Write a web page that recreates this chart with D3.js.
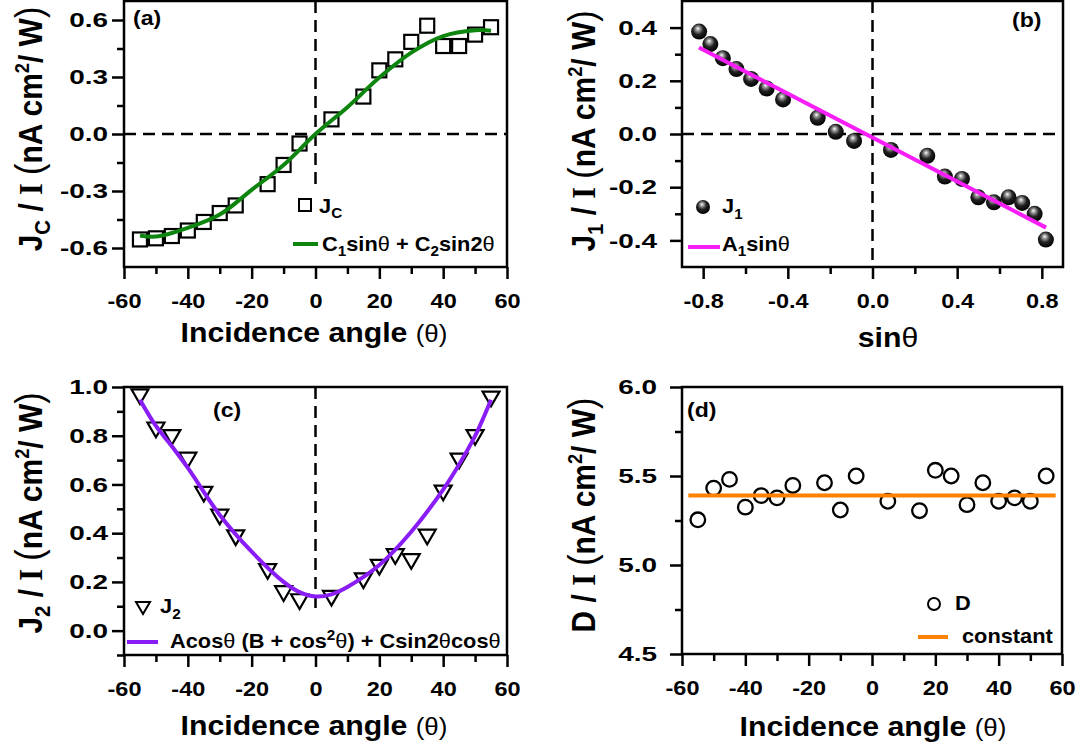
<!DOCTYPE html>
<html>
<head>
<meta charset="utf-8">
<script src="https://cdn.jsdelivr.net/npm/d3@7"></script>
<style>
  body { margin: 0; background: #fff; }
  text { font-family: "Liberation Sans", Arial, sans-serif; font-weight: bold; fill: #000; white-space: pre; }
</style>
</head>
<body>
<svg id="fig" width="1083" height="755"></svg>
<script>
// measured angles (deg), same set for all four panels
const angles = [-55, -50, -45, -40, -35, -30, -25, -15, -10, -5, 5, 15, 20, 25, 30, 35, 40, 45, 50, 55];
const jcValues = [-0.555, -0.549, -0.537, -0.508, -0.463, -0.416, -0.376, -0.264, -0.163, -0.050,
                  0.077, 0.197, 0.335, 0.393, 0.485, 0.570, 0.463, 0.463, 0.523, 0.562];
const j1Values = [0.385, 0.338, 0.285, 0.244, 0.207, 0.171, 0.130, 0.061, 0.008, -0.026,
                  -0.060, -0.082, -0.160, -0.169, -0.238, -0.257, -0.238, -0.259, -0.300, -0.397];
const j2Values = [0.962, 0.826, 0.795, 0.702, 0.562, 0.468, 0.383, 0.245, 0.154, 0.121,
                  0.135, 0.207, 0.262, 0.306, 0.286, 0.386, 0.567, 0.698, 0.795, 0.953];
const dValues = [5.254, 5.432, 5.481, 5.325, 5.390, 5.377, 5.447, 5.462, 5.309, 5.500,
                 5.358, 5.305, 5.532, 5.500, 5.339, 5.462, 5.358, 5.377, 5.358, 5.500];

// fitted curves
const jcFitAngles = [-55, -50, -40, -30, -20, -10, 0, 10, 20, 30, 40, 50, 55];
const jcFit = [-0.534, -0.540, -0.494, -0.424, -0.294, -0.163, 0, 0.141, 0.297, 0.428, 0.515, 0.546, 0.544];
const j1FitSin = [-0.82, 0.82];
const j1Fit = [0.325, -0.352];
const j2FitAngles = [-55, -50, -45, -40, -30, -20, -10, -5, 0, 5, 10, 20, 30, 40, 45, 50, 55];
const j2Fit = [0.948, 0.840, 0.757, 0.668, 0.475, 0.324, 0.200, 0.158, 0.140, 0.149, 0.179, 0.269, 0.406, 0.579, 0.682, 0.799, 0.948];
const dFitAngles = [-58, 58];
const dFit = [5.39, 5.39];

// ticks
const angleTicks = [-60, -40, -20, 0, 20, 40, 60];
const angleMinor = [-50, -30, -10, 10, 30, 50];
const sinTicks = [-0.8, -0.4, 0, 0.4, 0.8];
const sinMinor = [-0.6, -0.2, 0.2, 0.6];
const jcTicks = [-0.6, -0.3, 0, 0.3, 0.6];
const jcMinor = [-0.45, -0.15, 0.15, 0.45];
const j1Ticks = [-0.4, -0.2, 0, 0.2, 0.4];
const j1Minor = [-0.3, -0.1, 0.1, 0.3];
const j2Ticks = [0, 0.2, 0.4, 0.6, 0.8, 1.0];
const j2Minor = [-0.1, 0.1, 0.3, 0.5, 0.7, 0.9];
const dTicks = [4.5, 5.0, 5.5, 6.0];
const dMinor = [4.75, 5.25, 5.75];

const svg = d3.select("#fig");
const defs = svg.append("defs");
const grad = defs.append("radialGradient").attr("id", "ball")
    .attr("cx", "45%").attr("cy", "40%").attr("r", "60%").attr("fx", "42%").attr("fy", "30%");
grad.append("stop").attr("offset", "0%").attr("stop-color", "#fff");
grad.append("stop").attr("offset", "20%").attr("stop-color", "#a0a0a0");
grad.append("stop").attr("offset", "55%").attr("stop-color", "#222");
grad.append("stop").attr("offset", "100%").attr("stop-color", "#000");

const f1 = d => d.toFixed(1);
const f0 = d => d3.format("d")(d).replace("\u2212", "-");
const LW = 2.5;

// text with sub/superscripts: parts = [{t, shift, size, weight, family}]
function rich(parent, x, y, parts, o) {
    const t = parent.append("text")
        .attr("transform", `translate(${x},${y})` + (o.rot ? ` rotate(${o.rot})` : "") +
            ` scale(${o.sx || 1},${o.sy || 1})`)
        .attr("text-anchor", o.anchor || "start")
        .style("font-size", o.size + "px");
    let cur = 0;
    parts.forEach(p => {
        const s = t.append("tspan").text(p.t);
        const off = p.shift || 0;
        if (off !== cur) s.attr("dy", off - cur);
        cur = off;
        if (p.size) s.style("font-size", p.size + "px");
        if (p.weight) s.style("font-weight", p.weight);
        if (p.family) s.style("font-family", p.family);
    });
    return t;
}

function panel(o) {
    const g = svg.append("g");
    const x = d3.scaleLinear().domain(o.xDomain).range([o.left, o.right]);
    const y = d3.scaleLinear().domain(o.yDomain).range([o.bottom, o.top]);

    // minor + major ticks, outward
    g.append("g").attr("transform", `translate(0,${o.bottom})`)
        .call(d3.axisBottom(x).tickValues(o.xMinor).tickSize(7).tickFormat(""));
    g.append("g").attr("transform", `translate(0,${o.bottom})`)
        .call(d3.axisBottom(x).tickValues(o.xTicks).tickSize(12).tickPadding(14).tickFormat(o.xFmt))
        .selectAll("text").style("font-size", "21px").style("font-family", null)
        .attr("transform", "scale(1.12,1)");
    g.append("g").attr("transform", `translate(0,0)`)
        .attr("transform", `translate(${o.left},0)`)
        .call(d3.axisLeft(y).tickValues(o.yMinor).tickSize(7).tickFormat(""));
    const ySx = 1.33;
    g.append("g").attr("transform", `translate(${o.left},0)`)
        .call(d3.axisLeft(y).tickValues(o.yTicks).tickSize(12).tickFormat(o.yFmt))
        .selectAll("text").style("font-size", "21px").style("font-family", null)
        .attr("x", -o.yOff / ySx).attr("transform", `scale(${ySx},1)`);
    g.selectAll(".domain").remove();
    g.selectAll(".tick line").attr("stroke", "#000").attr("stroke-width", LW);

    g.append("rect").attr("x", o.left).attr("y", o.top)
        .attr("width", o.right - o.left).attr("height", o.bottom - o.top)
        .attr("fill", "none").attr("stroke", "#000").attr("stroke-width", LW);
    return { g, x, y };
}

function dashed(g, x1, y1, x2, y2) {
    g.append("line").attr("x1", x1).attr("y1", y1).attr("x2", x2).attr("y2", y2)
        .attr("stroke", "#000").attr("stroke-width", 2.5).attr("stroke-dasharray", "12,7");
}

function fitLine(g, x, y, xs, ys, color, curve) {
    g.append("path").datum(xs.map((v, i) => [v, ys[i]]))
        .attr("fill", "none").attr("stroke", color).attr("stroke-width", 4)
        .attr("d", d3.line().x(d => x(d[0])).y(d => y(d[1])).curve(curve || d3.curveLinear));
}

const tri = d3.symbol(d3.symbolTriangle, 125)();
const LEG = { size: 20, sx: 1.09 };
const SUB = 14;

// ---------- (a) ----------
const pa = panel({ left: 124, right: 507, top: 1, bottom: 267, xDomain: [-60, 60], yDomain: [-0.7, 0.7],
    xTicks: angleTicks, xMinor: angleMinor, yTicks: jcTicks, yMinor: jcMinor, xFmt: f0, yFmt: f1, yOff: 16 });
dashed(pa.g, pa.x(-60), pa.y(0), pa.x(60), pa.y(0));
dashed(pa.g, pa.x(0), pa.y(0.7), pa.x(0), pa.y(-0.28));
pa.g.selectAll(".jc").data(angles).join("rect")
    .attr("x", (d) => pa.x(d) - 7).attr("y", (d, i) => pa.y(jcValues[i]) - 7)
    .attr("width", 14).attr("height", 14).attr("fill", "none").attr("stroke", "#000").attr("stroke-width", 2.2);
fitLine(pa.g, pa.x, pa.y, jcFitAngles, jcFit, "#0e850e", d3.curveCatmullRom);
pa.g.append("rect").attr("x", 299).attr("y", 199).attr("width", 12).attr("height", 12)
    .attr("fill", "none").attr("stroke", "#000").attr("stroke-width", 2);
rich(pa.g, 319, 213, [{ t: "J" }, { t: "C", shift: 5, size: SUB }], LEG);
pa.g.append("line").attr("x1", 293).attr("x2", 318).attr("y1", 244).attr("y2", 244)
    .attr("stroke", "#0e850e").attr("stroke-width", 4);
rich(pa.g, 322, 251, [{ t: "C" }, { t: "1", shift: 5, size: SUB }, { t: "sin" }, { t: "θ", weight: "normal" },
    { t: " + C" }, { t: "2", shift: 5, size: SUB }, { t: "sin2" }, { t: "θ", weight: "normal" }], LEG);
rich(pa.g, 133, 25, [{ t: "(a)" }], { size: 21, sx: 1.1 });

// ---------- (b) ----------
const pb = panel({ left: 682, right: 1063, top: 1, bottom: 267, xDomain: [-0.9, 0.9], yDomain: [-0.5, 0.5],
    xTicks: sinTicks, xMinor: sinMinor, yTicks: j1Ticks, yMinor: j1Minor, xFmt: f1, yFmt: f1, yOff: 25 });
dashed(pb.g, pb.x(-0.9), pb.y(0), pb.x(0.9), pb.y(0));
dashed(pb.g, pb.x(0), pb.y(0.5), pb.x(0), pb.y(-0.5));
pb.g.selectAll(".j1").data(angles).join("circle")
    .attr("cx", d => pb.x(Math.sin(d * Math.PI / 180))).attr("cy", (d, i) => pb.y(j1Values[i]))
    .attr("r", 8).attr("fill", "url(#ball)");
fitLine(pb.g, pb.x, pb.y, j1FitSin, j1Fit, "#f71ef7");
pb.g.append("circle").attr("cx", 703).attr("cy", 207).attr("r", 7).attr("fill", "url(#ball)");
rich(pb.g, 722, 213, [{ t: "J" }, { t: "1", shift: 6, size: SUB }], LEG);
pb.g.append("line").attr("x1", 688).attr("x2", 720).attr("y1", 247).attr("y2", 247)
    .attr("stroke", "#f71ef7").attr("stroke-width", 4);
rich(pb.g, 722, 251, [{ t: "A" }, { t: "1", shift: 5, size: SUB }, { t: "sin" }, { t: "θ", weight: "normal" }], LEG);
rich(pb.g, 1012, 27, [{ t: "(b)" }], { size: 21, sx: 1.1 });

// ---------- (c) ----------
const pc = panel({ left: 124, right: 507, top: 387, bottom: 655, xDomain: [-60, 60], yDomain: [-0.1, 1.0],
    xTicks: angleTicks, xMinor: angleMinor, yTicks: j2Ticks, yMinor: j2Minor, xFmt: f0, yFmt: f1, yOff: 16 });
dashed(pc.g, pc.x(0), pc.y(1.0), pc.x(0), pc.y(0.07));
pc.g.selectAll(".j2").data(angles).join("path")
    .attr("d", tri)
    .attr("transform", (d, i) => `translate(${pc.x(d)},${pc.y(j2Values[i]) - 2}) rotate(180)`)
    .attr("fill", "none").attr("stroke", "#000").attr("stroke-width", 2.2);
fitLine(pc.g, pc.x, pc.y, j2FitAngles, j2Fit, "#8a1cf5", d3.curveCatmullRom);
pc.g.append("path").attr("d", d3.symbol(d3.symbolTriangle, 85)())
    .attr("transform", "translate(143,606) rotate(180)")
    .attr("fill", "none").attr("stroke", "#000").attr("stroke-width", 2);
rich(pc.g, 160, 613, [{ t: "J" }, { t: "2", shift: 6, size: SUB }], LEG);
pc.g.append("line").attr("x1", 127).attr("x2", 158).attr("y1", 642).attr("y2", 642)
    .attr("stroke", "#8a1cf5").attr("stroke-width", 4);
rich(pc.g, 170, 648, [{ t: "Acos" }, { t: "θ", weight: "normal" }, { t: " (B + cos" }, { t: "2", shift: -8, size: SUB },
    { t: "θ", weight: "normal" }, { t: ") + Csin2" }, { t: "θ", weight: "normal" }, { t: "cos" }, { t: "θ", weight: "normal" }], LEG);
rich(pc.g, 213, 417, [{ t: "(c)" }], { size: 21, sx: 1.1 });

// ---------- (d) ----------
const pd = panel({ left: 682, right: 1062, top: 387, bottom: 654, xDomain: [-60, 60], yDomain: [4.5, 6.0],
    xTicks: angleTicks, xMinor: angleMinor, yTicks: dTicks, yMinor: dMinor, xFmt: f0, yFmt: f1, yOff: 25 });
pd.g.selectAll(".dd").data(angles).join("circle")
    .attr("cx", d => pd.x(d)).attr("cy", (d, i) => pd.y(dValues[i]))
    .attr("r", 7.3).attr("fill", "none").attr("stroke", "#000").attr("stroke-width", 2.3);
fitLine(pd.g, pd.x, pd.y, dFitAngles, dFit, "#ff8200");
pd.g.append("circle").attr("cx", 934).attr("cy", 604).attr("r", 6).attr("fill", "none")
    .attr("stroke", "#000").attr("stroke-width", 2);
rich(pd.g, 955, 610, [{ t: "D" }], LEG);
pd.g.append("line").attr("x1", 918).attr("x2", 948).attr("y1", 637).attr("y2", 637)
    .attr("stroke", "#ff8200").attr("stroke-width", 4);
rich(pd.g, 962, 643, [{ t: "constant" }], LEG);
rich(pd.g, 687, 417, [{ t: "(d)" }], { size: 21, sx: 1.1 });

// ---------- axis titles ----------
const TT = { size: 28, sx: 1.08, anchor: "middle" };
const angleTitle = [{ t: "Incidence angle " }, { t: "(θ)", weight: "normal", size: 24 }];
rich(svg, 314, 342, angleTitle, TT);
rich(svg, 314, 735, angleTitle, TT);
rich(svg, 873, 736, angleTitle, TT);
rich(svg, 888, 347, [{ t: "sin" }, { t: "θ", weight: "normal" }], TT);

function yTitle(x, y, head) {
    const parts = head.concat([{ t: " / " }, { t: "I", family: "Liberation Serif" }, { t: " " },
        { t: "(", weight: "normal", size: 32 }, { t: "nA cm" }, { t: "2", shift: -11, size: 17 },
        { t: "/ W", shift: 0 }, { t: ")", weight: "normal", size: 32 }]);
    rich(svg, x, y, parts, { size: 28, sx: 1.07, sy: 1.2, rot: -90, anchor: "middle" });
}
yTitle(42, 129, [{ t: "J" }, { t: "C", shift: 7, size: 19 }]);
yTitle(595, 131, [{ t: "J" }, { t: "1", shift: 7, size: 19 }]);
yTitle(42, 513, [{ t: "J" }, { t: "2", shift: 7, size: 19 }]);
yTitle(595, 515, [{ t: "D" }]);
</script>
</body>
</html>
